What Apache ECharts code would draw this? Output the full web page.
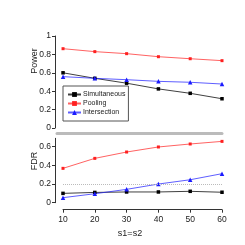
<!DOCTYPE html>
<html><head><meta charset="utf-8">
<script src="https://cdn.jsdelivr.net/npm/echarts@6/dist/echarts.min.js"></script>
<style>html,body{margin:0;padding:0;background:#fff}#c{width:245px;height:245px}</style>
</head><body><div id="c"></div>
<script>
var xs = [10, 20, 30, 40, 50, 60];
var powerSimultaneous = [0.60, 0.54, 0.487, 0.425, 0.377, 0.318];
var powerPooling = [0.862, 0.830, 0.808, 0.775, 0.753, 0.732];
var powerIntersection = [0.558, 0.540, 0.525, 0.507, 0.497, 0.478];
var fdrSimultaneous = [0.10, 0.11, 0.115, 0.115, 0.122, 0.112];
var fdrPooling = [0.368, 0.475, 0.543, 0.597, 0.629, 0.657];
var fdrIntersection = [0.054, 0.096, 0.143, 0.200, 0.246, 0.311];
var powerTicks = [0, 0.2, 0.4, 0.6, 0.8, 1];
var fdrTicks = [0, 0.2, 0.4, 0.6];
var xTicks = [10, 20, 30, 40, 50, 60];

var F = 'Liberation Sans, Arial, sans-serif';
var txt = '#222';
function pairs(v){ return xs.map(function(x,i){ return [x, v[i]]; }); }
var colors = {Simultaneous:'#000000', Pooling:'#ff2020', Intersection:'#1a1aff'};
var symbols = {Simultaneous:'rect', Pooling:'rect', Intersection:'triangle'};
var sizes = {Simultaneous:3.5, Pooling:3, Intersection:4.5};
function ser(name, data, idx){
  return {name:name, type:'line', xAxisIndex:idx, yAxisIndex:idx, data:pairs(data),
    symbol:symbols[name], symbolSize:sizes[name], showSymbol:true, clip:false,
    lineStyle:{color:colors[name], width:1, opacity:name==='Simultaneous'?0.75:0.7},
    itemStyle:{color:colors[name]}, emphasis:{disabled:true}, animation:false};
}
var yAxisBase = function(gi, max, ticks, offset){
  return {type:'value', gridIndex:gi, min:0, max:max, interval:0.2, offset:offset,
    axisLine:{show:true, lineStyle:{color:'#333', width:1}},
    axisTick:{show:true, length:3, inside:false, customValues:ticks, lineStyle:{color:'#333'}},
    axisLabel:{fontFamily:F, fontSize:8.5, color:txt, margin:4, customValues:ticks},
    splitLine:{show:false}};
};
var s1 = ser('Simultaneous', fdrSimultaneous, 1);
s1.markLine = {silent:true, symbol:'none', label:{show:false},
  lineStyle:{color:'#bbb', type:'dotted', width:1}, data:[{yAxis:0.2}], animation:false};

var chart = echarts.init(document.getElementById('c'));
chart.setOption({
  animation:false,
  backgroundColor:'#fff',
  grid:[{left:57, right:23, top:36, height:92},
        {left:63, right:23, top:138.3, bottom:42.3}],
  xAxis:[
    {type:'value', gridIndex:0, min:8.1, max:60, offset:5,
     axisLine:{show:true, onZero:false, lineStyle:{color:'#bbb', width:3}},
     axisTick:{show:false}, axisLabel:{show:false}, splitLine:{show:false}},
    {type:'value', gridIndex:1, min:10, max:60, interval:10, offset:7,
     axisLine:{show:true, onZero:false, lineStyle:{color:'#333', width:1}},
     axisTick:{show:true, length:3, customValues:xTicks, lineStyle:{color:'#333'}},
     axisLabel:{fontFamily:F, fontSize:8.5, color:txt, margin:5, customValues:xTicks},
     splitLine:{show:false},
     name:'s1=s2', nameLocation:'middle', nameGap:19,
     nameTextStyle:{fontFamily:F, fontSize:9, color:txt, padding:[0,25,0,0]}}
  ],
  yAxis:[yAxisBase(0, 1, powerTicks, 2), yAxisBase(1, 0.69, fdrTicks, 8)],
  legend:{data:['Simultaneous','Pooling','Intersection'], orient:'vertical',
    left:63, top:86, itemWidth:13, itemHeight:6, itemGap:2,
    padding:[5,3,5,4], borderColor:'#555', borderWidth:1, borderRadius:0,
    textStyle:{fontFamily:F, fontSize:7, color:txt, padding:[0,0,0,-3]},
    selectedMode:false},
  graphic:[
    {type:'text', x:34.5, y:61, rotation:Math.PI/2,
     style:{text:'Power', font:'9px '+F, fill:txt, align:'center', verticalAlign:'middle'}},
    {type:'text', x:34.5, y:161, rotation:Math.PI/2,
     style:{text:'FDR', font:'9px '+F, fill:txt, align:'center', verticalAlign:'middle'}}
  ],
  series:[
    ser('Simultaneous', powerSimultaneous, 0),
    ser('Pooling', powerPooling, 0),
    ser('Intersection', powerIntersection, 0),
    s1,
    ser('Pooling', fdrPooling, 1),
    ser('Intersection', fdrIntersection, 1)
  ]
});
</script></body></html>
